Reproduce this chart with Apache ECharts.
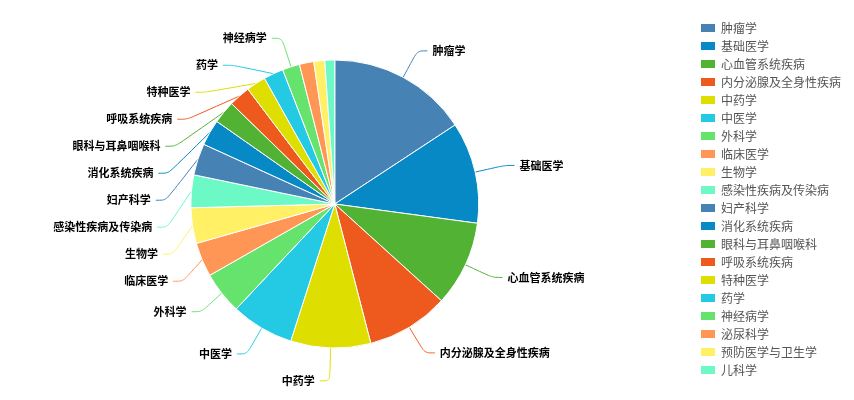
<!DOCTYPE html>
<html>
<head>
<meta charset="utf-8">
<script src="https://cdn.jsdelivr.net/npm/echarts@6/dist/echarts.min.js"></script>
<style>
  html, body { margin: 0; padding: 0; background: #fff; }
  #chart { width: 854px; height: 400px; }
</style>
</head>
<body>
<div id="chart"></div>
<script>
// Disciplines, in drawing order (clockwise from 12 o'clock)
const categories = [
  '肿瘤学', '基础医学', '心血管系统疾病', '内分泌腺及全身性疾病', '中药学',
  '中医学', '外科学', '临床医学', '生物学', '感染性疾病及传染病',
  '妇产科学', '消化系统疾病', '眼科与耳鼻咽喉科', '呼吸系统疾病', '特种医学',
  '药学', '神经病学', '泌尿科学', '预防医学与卫生学', '儿科学'
];
const values = [
  567, 410, 345, 333, 323,
  254, 171, 138, 144, 132,
  128, 105, 92, 87, 79,
  80, 70, 58, 44, 40
];
const palette = [
  '#4682b4', '#0789c6', '#52b234', '#ee5a1e', '#dede00',
  '#24c9e3', '#66e36d', '#ff9656', '#fff066', '#6cf9c6'
];

const chart = echarts.init(document.getElementById('chart'));
chart.setOption({
  color: palette,
  animation: false,
  legend: {
    orient: 'vertical',
    left: 694,
    top: 17,
    itemWidth: 16,
    itemHeight: 10,
    itemGap: 6,
    icon: 'rect',
    textStyle: { color: '#555', fontSize: 12, fontFamily: 'Noto Sans CJK SC' },
    data: categories
  },
  series: [{
    type: 'pie',
    center: ['39.2%', '51%'],
    radius: '72%',
    startAngle: 90,
    minShowLabelAngle: 6.4,
    itemStyle: { borderColor: '#fff', borderWidth: 1 },
    label: {
      color: '#000',
      fontSize: 11,
      fontWeight: 'bold',
      lineHeight: 25,
      fontFamily: 'Noto Sans CJK SC'
    },
    labelLine: { length: 30, length2: 10, smooth: true },
    data: categories.map((name, i) => ({ name, value: values[i] }))
  }]
});
</script>
</body>
</html>
